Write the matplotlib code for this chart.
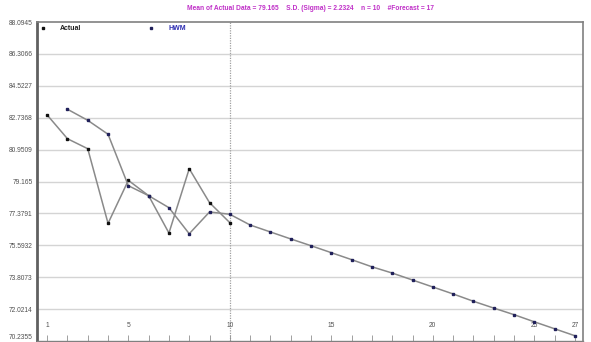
import matplotlib
matplotlib.use("Agg")
import matplotlib.pyplot as plt
from matplotlib.lines import Line2D

plt.rcParams["font.family"] = ["Liberation Sans", "DejaVu Sans"]

# ---- data ----
x_actual = list(range(1, 11))
actual = [82.89, 81.56, 81.00, 76.82, 79.23, 78.37, 76.28, 79.88, 77.98, 76.86]
x_hwm = list(range(2, 28))
hwm = [83.21, 82.59, 81.81, 78.93, 78.37, 77.70, 76.24, 77.46, 77.33, 76.73,
       76.34, 75.95, 75.57, 75.18, 74.79, 74.39, 74.04, 73.65, 73.26, 72.87,
       72.46, 72.08, 71.71, 71.31, 70.92, 70.53]
y_ticks = [70.2355, 72.0214, 73.8073, 75.5932, 77.3791, 79.165, 80.9509,
           82.7368, 84.5227, 86.3066, 88.0945]
y_tick_labels = ["70.2355", "72.0214", "73.8073", "75.5932", "77.3791", "79.165",
                 "80.9509", "82.7368", "84.5227", "86.3066", "88.0945"]
x_label_positions = [1, 5, 10, 15, 20, 25, 27]
split_x = 10
title_text = ("Mean of Actual Data = 79.165    S.D. (Sigma) = 2.2324    "
              "n = 10    #Forecast = 17")

W, H = 591, 342
fig = plt.figure(figsize=(W / 100, H / 100), dpi=100)
L, R, T, B = 37, 583, 22, 341
ax = fig.add_axes([L / W, 1 - B / H, (R - L) / W, (B - T) / H])

ax.set_xlim(0.5, 27.4)
ax.set_ylim(70.2355, 88.0945)

# grid
for yv in y_ticks[1:-1]:
    ax.axhline(yv, color="#d4d4d4", lw=1.0, zorder=0)
ax.axvline(split_x, color="#a0a0a0", lw=0.9, ls=(0, (1, 1)), zorder=0)

line_color = "#8a8a8a"
ax.plot(x_actual, actual, color=line_color, lw=1.1, marker="s", ms=1.6,
        mfc="#101010", mec="#101010", zorder=3)
ax.plot(x_hwm, hwm, color=line_color, lw=1.1, marker="s", ms=1.6,
        mfc="#20205a", mec="#20205a", zorder=3)

# y ticks
ax.set_yticks(y_ticks)
ax.set_yticklabels(y_tick_labels)
ax.tick_params(axis="y", length=0, pad=3, labelsize=4.8, labelcolor="#505050")
ylabels = ax.get_yticklabels()
ylabels[0].set_verticalalignment("bottom")

# x ticks (inside)
ax.set_xticks(list(range(1, 28)))
ax.set_xticklabels([str(v) if v in x_label_positions else "" for v in range(1, 28)])
ax.tick_params(axis="x", direction="in", length=4, width=0.6, color="#909090",
               pad=-14, labelsize=4.8, labelcolor="#505050")

for side in ["top", "right"]:
    ax.spines[side].set_color("#808080")
    ax.spines[side].set_linewidth(1.2)
ax.spines["left"].set_color("#606060")
ax.spines["left"].set_linewidth(2.0)
ax.spines["bottom"].set_color("#808080")
ax.spines["bottom"].set_linewidth(1.0)

# legend
handles = [Line2D([], [], ls="none", marker="s", ms=1.6, mfc="#101010", mec="#101010"),
           Line2D([], [], ls="none", marker="s", ms=1.6, mfc="#20205a", mec="#20205a")]
leg = ax.legend(handles, ["Actual", "HWM"], loc="upper left", ncol=2, frameon=False,
                prop={"size": 5.0, "weight": "bold"}, handlelength=0.6,
                handletextpad=2.2, columnspacing=9.8, borderaxespad=0.2,
                borderpad=0.3)
leg.get_texts()[0].set_color("#202020")
leg.get_texts()[1].set_color("#2a2ab0")

fig.text(311 / W, 1 - 8 / H, title_text, ha="center", va="center",
         fontsize=4.8, fontweight="bold", color="#c030c8")

fig.savefig("out.png", dpi=100, facecolor="white")
